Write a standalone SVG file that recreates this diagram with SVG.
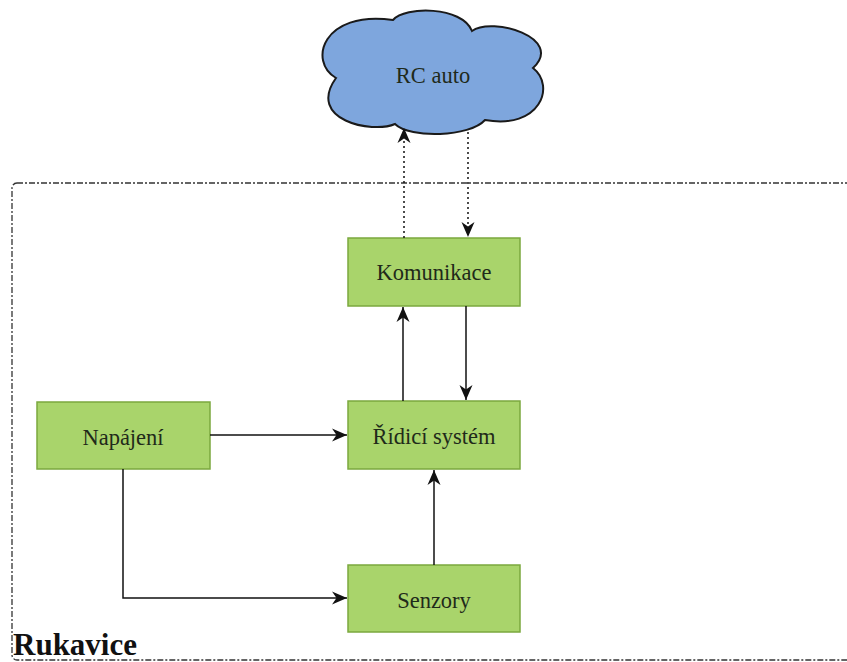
<svg xmlns="http://www.w3.org/2000/svg" width="847" height="662" viewBox="0 0 847 662">
<defs>
<style>
.box{fill:#a9d46b;stroke:#7ba83e;stroke-width:1.5}
.lbl{font-family:"Liberation Serif","Times New Roman",serif;font-size:22.5px;fill:#1f2a1a;text-anchor:middle;dominant-baseline:central}
.edge{fill:none;stroke:#111;stroke-width:1.5}
.dot{stroke-dasharray:2 3}
</style>
<marker id="arr" markerUnits="userSpaceOnUse" markerWidth="16" markerHeight="16" viewBox="0 0 16 16" refX="15" refY="8" orient="auto">
<path d="M0,1.5 L15,8 L0,14.5 L4.5,8 Z" fill="#111"/>
</marker>
</defs>
<rect width="847" height="662" fill="#fff"/>
<g id="container">
<rect x="12" y="183" width="850" height="477" rx="5" fill="none" stroke="#333" stroke-width="1.3" stroke-dasharray="6 2 2 2"/>
<text x="13" y="655" font-family="Liberation Serif,'Times New Roman',serif" font-weight="bold" font-size="31" fill="#111">Rukavice</text>
</g>
<g id="rcauto">
<path d="M336,78 C308,62 322,10 393,20 C405,6 462,6 472,31 C492,16 565,38 533,68 C556,86 540,130 485,120 C470,137 410,139 395,124 C372,134 306,120 336,78 Z" fill="#7ea6dd" stroke="#1a1a1a" stroke-width="2"/>
<text class="lbl" x="433" y="75">RC auto</text>
</g>
<g id="komunikace">
<rect class="box" x="348" y="238" width="172" height="68"/>
<text class="lbl" x="434" y="272">Komunikace</text>
</g>
<g id="ridici">
<rect class="box" x="348" y="401" width="172" height="68"/>
<text class="lbl" x="434" y="436">Řídicí systém</text>
</g>
<g id="napajeni">
<rect class="box" x="37" y="402" width="173" height="67"/>
<text class="lbl" x="123" y="437">Napájení</text>
</g>
<g id="senzory">
<rect class="box" x="348" y="565" width="172" height="67"/>
<text class="lbl" x="434" y="600">Senzory</text>
</g>
<g id="connectors">
<path class="edge" d="M210,435 L347,435" marker-end="url(#arr)"/>
<path class="edge" d="M123,469 L123,598 L347,598" marker-end="url(#arr)"/>
<path class="edge" d="M434,565 L434,470" marker-end="url(#arr)"/>
<path class="edge" d="M403,401 L403,307" marker-end="url(#arr)"/>
<path class="edge" d="M466,306 L466,400" marker-end="url(#arr)"/>
<path class="edge dot" d="M404,238 L404,128" marker-end="url(#arr)"/>
<path class="edge dot" d="M468,132 L468,237" marker-end="url(#arr)"/>
</g>
</svg>
